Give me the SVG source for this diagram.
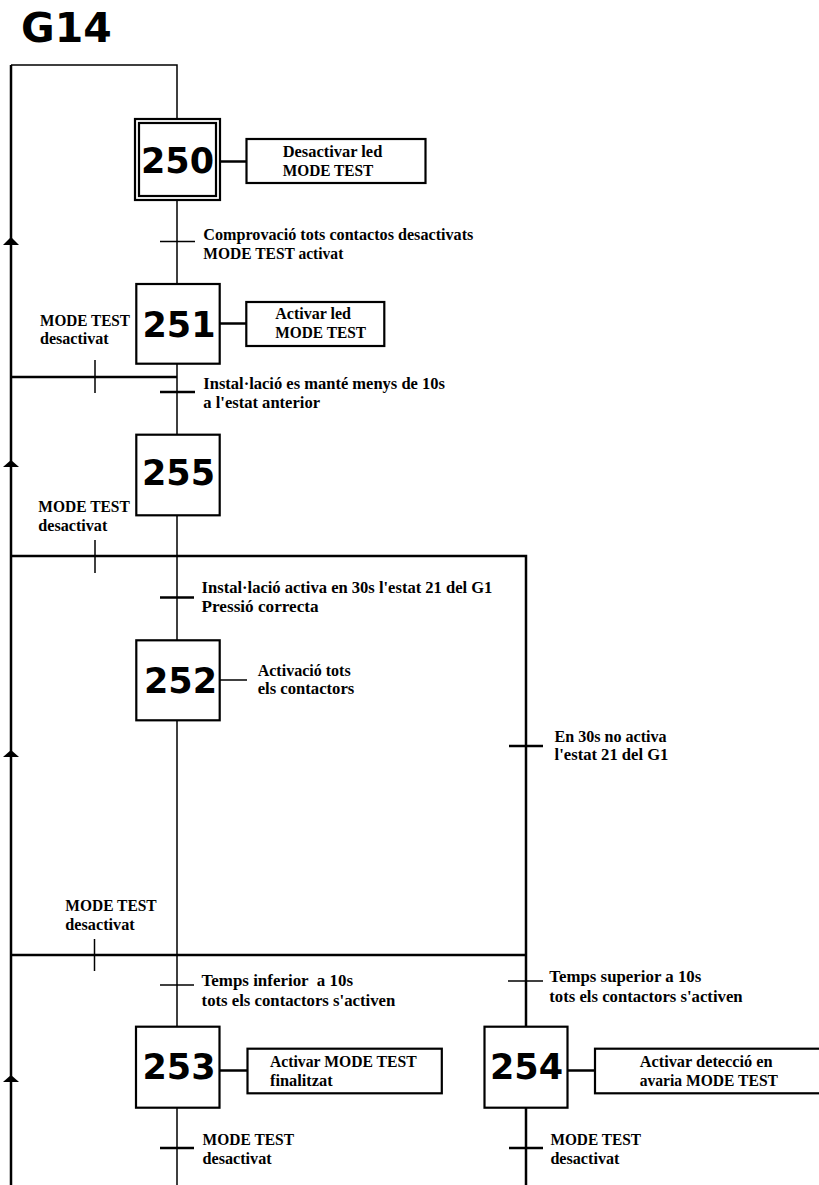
<svg xmlns="http://www.w3.org/2000/svg" width="819" height="1185" viewBox="0 0 819 1185">
<style>
.bg{fill:#fff}
.ln{stroke:#000;fill:none}
.thin{stroke-width:1.5}
.thk{stroke-width:2.5}
.box{fill:#fff;stroke:#000;stroke-width:2.2}
.num{font-family:"DejaVu Sans",Verdana,sans-serif;font-weight:bold;font-size:35px;fill:#000;text-anchor:middle}
.t{font-family:"Liberation Serif","Times New Roman",serif;font-weight:bold;font-size:17.5px;fill:#000}
.title{font-family:"DejaVu Sans",Verdana,sans-serif;font-weight:bold;font-size:41px;fill:#000}
</style>
<rect class="bg" x="0" y="0" width="819" height="1185"/>
<text class="title" x="21" y="42">G14</text>

<g id="connectors">
<path class="ln thk" d="M11,1185 V65"/>
<path class="ln thin" d="M11,65 H177 V1185"/>
<path class="ln thk" d="M11,377 H177"/>
<path class="ln thk" d="M11,556 H526 V1185"/>
<path class="ln thk" d="M11,955 H526"/>
<path d="M11,237 L3,245 L19,245 Z" fill="#000"/>
<path d="M11,460 L3,467 L19,467 Z" fill="#000"/>
<path d="M11,750 L3,757 L19,757 Z" fill="#000"/>
<path d="M11,1075 L3,1082 L19,1082 Z" fill="#000"/>
<path class="ln thin" d="M160,241.5 H195"/>
<path class="ln thin" d="M95,360 V393"/>
<path class="ln thk" d="M160,392 H195"/>
<path class="ln thin" d="M95,540 V573"/>
<path class="ln thk" d="M160,597.5 H194"/>
<path class="ln thk" d="M509,746 H543"/>
<path class="ln thin" d="M94.5,939 V971"/>
<path class="ln thin" d="M160,985 H194"/>
<path class="ln thin" d="M508,981 H543"/>
<path class="ln thk" d="M160,1148 H194"/>
<path class="ln thk" d="M509,1148 H543"/>
<path class="ln thk" d="M220,161.5 H246"/>
<path class="ln thk" d="M220,323.5 H246"/>
<path class="ln thin" d="M220,680 H247"/>
<path class="ln thk" d="M220,1070.5 H248"/>
<path class="ln thk" d="M568,1070.5 H595"/>
</g>

<g id="step250">
<rect class="box" x="135" y="119" width="85" height="81"/>
<rect class="box" x="139" y="123" width="77" height="73" stroke-width="1.8"/>
<text class="num" x="177.5" y="173">250</text>
</g>
<g id="action250">
<rect class="box" x="246.5" y="139" width="179" height="44"/>
<text class="t" x="282.7" y="157.3" textLength="99.6" lengthAdjust="spacingAndGlyphs">Desactivar led</text>
<text class="t" x="282.7" y="176" textLength="90.6" lengthAdjust="spacingAndGlyphs">MODE TEST</text>
</g>
<g id="tr250">
<text class="t" x="203.3" y="240" textLength="270" lengthAdjust="spacingAndGlyphs">Comprovació tots contactos desactivats</text>
<text class="t" x="203.3" y="259.3" textLength="140" lengthAdjust="spacingAndGlyphs">MODE TEST activat</text>
</g>

<g id="step251">
<rect class="box" x="136.3" y="284" width="83.4" height="79.7"/>
<text class="num" x="179" y="337">251</text>
</g>
<g id="action251">
<rect class="box" x="246.3" y="302" width="138" height="44"/>
<text class="t" x="275.3" y="319" textLength="75.7" lengthAdjust="spacingAndGlyphs">Activar led</text>
<text class="t" x="275.3" y="338.3" textLength="90.7" lengthAdjust="spacingAndGlyphs">MODE TEST</text>
</g>
<g id="tr251a">
<text class="t" x="40" y="325.7" textLength="90" lengthAdjust="spacingAndGlyphs">MODE TEST</text>
<text class="t" x="40" y="344.3" textLength="68.7" lengthAdjust="spacingAndGlyphs">desactivat</text>
</g>
<g id="tr251b">
<text class="t" x="203.3" y="389" textLength="241.7" lengthAdjust="spacingAndGlyphs">Instal·lació es manté menys de 10s</text>
<text class="t" x="203.3" y="408" textLength="116.7" lengthAdjust="spacingAndGlyphs">a l'estat anterior</text>
</g>

<g id="step255">
<rect class="box" x="136.3" y="434.7" width="83.4" height="80.6"/>
<text class="num" x="178.5" y="485">255</text>
</g>
<g id="tr255a">
<text class="t" x="38.3" y="511.7" textLength="91.5" lengthAdjust="spacingAndGlyphs">MODE TEST</text>
<text class="t" x="38.3" y="530.7" textLength="69" lengthAdjust="spacingAndGlyphs">desactivat</text>
</g>
<g id="tr255b">
<text class="t" x="201.6" y="593.3" textLength="290.8" lengthAdjust="spacingAndGlyphs">Instal·lació activa en 30s l'estat 21 del G1</text>
<text class="t" x="201.6" y="612.3" textLength="117" lengthAdjust="spacingAndGlyphs">Pressió correcta</text>
</g>
<g id="tr255c">
<text class="t" x="554.6" y="741.7" textLength="112" lengthAdjust="spacingAndGlyphs">En 30s no activa</text>
<text class="t" x="554.6" y="760" textLength="113.8" lengthAdjust="spacingAndGlyphs">l'estat 21 del G1</text>
</g>

<g id="step252">
<rect class="box" x="136.3" y="640.3" width="83.4" height="80"/>
<text class="num" x="180.5" y="693.3">252</text>
</g>
<g id="action252">
<text class="t" x="257.7" y="675.7" textLength="93" lengthAdjust="spacingAndGlyphs">Activació tots</text>
<text class="t" x="257.7" y="694" textLength="96.6" lengthAdjust="spacingAndGlyphs">els contactors</text>
</g>
<g id="tr252a">
<text class="t" x="65.3" y="910.7" textLength="91.4" lengthAdjust="spacingAndGlyphs">MODE TEST</text>
<text class="t" x="65.3" y="930" textLength="69.4" lengthAdjust="spacingAndGlyphs">desactivat</text>
</g>
<g id="tr252b">
<text class="t" x="201.6" y="986" textLength="151.4" lengthAdjust="spacingAndGlyphs" xml:space="preserve">Temps inferior  a 10s</text>
<text class="t" x="201.6" y="1006" textLength="193.7" lengthAdjust="spacingAndGlyphs">tots els contactors s'activen</text>
</g>
<g id="tr252c">
<text class="t" x="549.3" y="982" textLength="152" lengthAdjust="spacingAndGlyphs">Temps superior a 10s</text>
<text class="t" x="549.3" y="1001.7" textLength="193.3" lengthAdjust="spacingAndGlyphs">tots els contactors s'activen</text>
</g>

<g id="step253">
<rect class="box" x="136" y="1026.7" width="83.5" height="81"/>
<text class="num" x="179" y="1078.5">253</text>
</g>
<g id="action253">
<rect class="box" x="247.5" y="1048.7" width="194.3" height="44.6"/>
<text class="t" x="270" y="1066.7" textLength="146.7" lengthAdjust="spacingAndGlyphs">Activar MODE TEST</text>
<text class="t" x="270" y="1086" textLength="62.6" lengthAdjust="spacingAndGlyphs">finalitzat</text>
</g>
<g id="step254">
<rect class="box" x="484.5" y="1026.7" width="83" height="81"/>
<text class="num" x="526.5" y="1078.5">254</text>
</g>
<g id="action254">
<rect class="box" x="595" y="1048.7" width="240" height="44.6"/>
<text class="t" x="639.7" y="1066.7" textLength="133" lengthAdjust="spacingAndGlyphs">Activar detecció en</text>
<text class="t" x="639.7" y="1086" textLength="138.3" lengthAdjust="spacingAndGlyphs">avaria MODE TEST</text>
</g>
<g id="tr253">
<text class="t" x="202.6" y="1145" textLength="91.4" lengthAdjust="spacingAndGlyphs">MODE TEST</text>
<text class="t" x="202.6" y="1164" textLength="69" lengthAdjust="spacingAndGlyphs">desactivat</text>
</g>
<g id="tr254">
<text class="t" x="550.4" y="1145" textLength="90.6" lengthAdjust="spacingAndGlyphs">MODE TEST</text>
<text class="t" x="550.4" y="1164" textLength="69" lengthAdjust="spacingAndGlyphs">desactivat</text>
</g>
</svg>
